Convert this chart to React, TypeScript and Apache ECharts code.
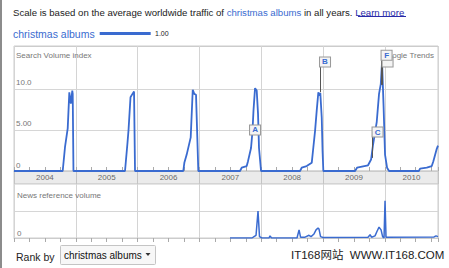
import React, { useEffect, useRef } from 'react';
import * as echarts from 'echarts';

const years = ['2004', '2005', '2006', '2007', '2008', '2009', '2010'];
const yearMid = [2004.5, 2005.5, 2006.5, 2007.5, 2008.5, 2009.5, 2010.43];
const xMin = 2004;
const xMax = 2010.86;

// Search volume index, [decimal year, value]
const searchVolume: [number, number][] = [
  [2004.0, 0],
  [2004.788, 0], [2004.825, 2.9], [2004.869, 5.2], [2004.895, 9.6], [2004.92, 8.2], [2004.943, 9.8], [2004.95, 9.4], [2004.962, 0],
  [2005.796, 0], [2005.837, 3.5], [2005.853, 5.0], [2005.885, 9.0], [2005.917, 9.4], [2005.942, 9.7], [2005.958, 0],
  [2006.739, 0], [2006.756, 1.0], [2006.794, 2.0], [2006.859, 4.1], [2006.892, 9.9], [2006.917, 9.4], [2006.945, 9.3], [2006.982, 0],
  [2007.657, 0], [2007.684, 0.4], [2007.765, 0.6], [2007.786, 1.2], [2007.835, 2.8], [2007.859, 4.9], [2007.875, 7.4], [2007.9, 10.1], [2007.927, 9.8], [2007.948, 7.0], [2007.964, 2.8], [2007.997, 0],
  [2008.628, 0], [2008.655, 0.4], [2008.736, 0.6], [2008.817, 1.0], [2008.838, 2.5], [2008.871, 4.9], [2008.898, 7.4], [2008.924, 9.6], [2008.94, 9.2], [2008.956, 9.5], [2008.979, 6.5], [2008.992, 2.5], [2009.005, 0],
  [2009.518, 0], [2009.55, 0.4], [2009.728, 0.7], [2009.777, 1.4], [2009.809, 3.2], [2009.869, 6.0], [2009.906, 9.4], [2009.934, 10.6], [2009.955, 13.3], [2009.979, 8.0], [2010.003, 2.0], [2010.036, 0.4], [2010.068, 0],
  [2010.55, 0], [2010.57, 0.3], [2010.678, 0.4], [2010.759, 0.6], [2010.785, 1.2], [2010.84, 2.7], [2010.86, 3.1],
];

// News reference volume, [decimal year, value]
const newsVolume: [number, number][] = [
  [2007.495, 0], [2007.851, 0], [2007.883, 0.05], [2007.916, 0.1], [2007.948, 1.0], [2007.972, 0.05], [2008.013, 0],
  [2008.126, 0], [2008.142, 0.08], [2008.167, 0],
  [2008.579, 0], [2008.612, 0.3], [2008.636, 0.03], [2008.709, 0.03], [2008.773, 0.1], [2008.806, 0.05], [2008.854, 0.15], [2008.887, 0.3], [2008.919, 0.37], [2008.935, 0.33], [2008.96, 0.05], [2009.0, 0.02],
  [2009.728, 0.03], [2009.761, 0.12], [2009.785, 0.03], [2009.841, 0.08], [2009.874, 0.25], [2009.906, 0.4], [2009.939, 0.3], [2009.964, 0.05], [2009.987, 0], [2010.003, 1.38], [2010.019, 0.03],
  [2010.796, 0.04], [2010.828, 0.08], [2010.86, 0.05],
];

// News flags: letter, decimal year, anchor value on the line, flag value
const flagLabels = ['A', 'B', 'C', '', 'F'];
const flagYears = [2007.819, 2008.951, 2009.801, 2009.963, 2009.947];
const flagAnchors = [5.0, 9.6, 1.6, 10.5, 10.5];
const flagTops = [5.0, 13.3, 4.75, 13.3, 14.1];

const BLUE = '#3a6bd0';
const FONT = '"Liberation Sans", Arial, sans-serif';

export default function App() {
  const ref = useRef<HTMLDivElement>(null);
  useEffect(() => {
    if (!ref.current) return;
    const chart = echarts.init(ref.current, null, { renderer: 'svg' });
    const xBase = {
      type: 'value', min: xMin, max: xMax, interval: 1,
      axisLabel: { show: false },
      splitLine: { show: true, lineStyle: { color: '#d4d4d4', width: 1 } },
    };
    chart.setOption({
      animation: false,
      textStyle: { fontFamily: FONT },
      legend: {
        data: ['christmas albums'], left: 8, top: 23, align: 'right', icon: 'rect',
        itemWidth: 51, itemHeight: 3, selectedMode: false,
        textStyle: { color: BLUE, fontSize: 10.5, fontFamily: FONT },
      },
      grid: [
        { left: 14, top: 46, width: 424, height: 125, show: true, borderColor: '#cccccc', borderWidth: 1, backgroundColor: '#fff' },
        { left: 14, top: 171, width: 424, height: 13, show: true, borderColor: '#cccccc', borderWidth: 1, backgroundColor: '#ebebeb' },
        { left: 14, top: 184, width: 424, height: 54, show: true, borderColor: '#cccccc', borderWidth: 1, backgroundColor: '#fff' },
      ],
      xAxis: [
        {
          ...xBase, gridIndex: 0,
          axisLine: { show: true, lineStyle: { color: '#cccccc' } },
          axisTick: { show: true, inside: true, length: 4, lineStyle: { color: '#aaaaaa' } },
          minorTick: { show: true, splitNumber: 4, length: 4, lineStyle: { color: '#aaaaaa' } },
        },
        {
          ...xBase, gridIndex: 1,
          axisLine: { show: false }, axisTick: { show: false },
          splitLine: { show: true, lineStyle: { color: '#c4c4c4', width: 1 } },
        },
        {
          ...xBase, gridIndex: 2, position: 'top',
          axisLine: { show: true, lineStyle: { color: '#cccccc' } },
          axisTick: { show: true, inside: true, length: 4, lineStyle: { color: '#aaaaaa' } },
          minorTick: { show: true, splitNumber: 4, length: 4, lineStyle: { color: '#aaaaaa' } },
        },
      ],
      yAxis: [
        {
          type: 'value', gridIndex: 0, min: 0, max: 15.24, interval: 5,
          axisLine: { show: false }, axisTick: { show: false },
          splitLine: { show: true, lineStyle: { color: ['#cccccc', '#d6d6d6', '#d6d6d6', 'rgba(0,0,0,0)'] } },
          axisLabel: {
            inside: true, margin: 2, verticalAlign: 'bottom', align: 'left', color: '#777', fontSize: 8, fontFamily: FONT,
            padding: [0, 0, 2, 0],
            formatter: (v: number) => (v === 0 ? '0' : v === 5 ? '5.00' : v === 10 ? '10.0' : ''),
          },
        },
        { type: 'value', gridIndex: 1, min: 0, max: 1, show: false },
        {
          type: 'value', gridIndex: 2, min: 0, max: 2, interval: 1,
          axisLine: { show: false }, axisTick: { show: false },
          splitLine: { show: true, lineStyle: { color: ['#cccccc', '#d6d6d6', 'rgba(0,0,0,0)'] } },
          axisLabel: {
            inside: true, margin: 3, verticalAlign: 'bottom', align: 'left', color: '#777', fontSize: 8, fontFamily: FONT,
            padding: [0, 0, 1, 0],
            formatter: (v: number) => (v === 0 ? '0' : ''),
          },
        },
      ],
      series: [
        {
          name: 'christmas albums', type: 'line', xAxisIndex: 0, yAxisIndex: 0, data: searchVolume,
          showSymbol: false, lineStyle: { color: BLUE, width: 1.8 }, itemStyle: { color: BLUE }, z: 3,
        },
        {
          name: 'years', type: 'scatter', xAxisIndex: 1, yAxisIndex: 1, silent: true,
          data: yearMid.map((x, i) => [x, 0.5, years[i]]), symbolSize: 0,
          label: { show: true, position: 'inside', formatter: (p: any) => p.data[2], color: '#444', fontSize: 8, fontFamily: FONT },
        },
        {
          name: 'news', type: 'line', xAxisIndex: 2, yAxisIndex: 2, data: newsVolume,
          showSymbol: false, lineStyle: { color: BLUE, width: 1.5 }, itemStyle: { color: BLUE }, z: 3,
        },
        {
          name: 'flag poles', type: 'lines', coordinateSystem: 'cartesian2d', xAxisIndex: 0, yAxisIndex: 0, silent: true,
          data: flagYears.map((x, i) => ({ coords: [[x, flagAnchors[i]], [x, flagTops[i]]] })),
          lineStyle: { color: '#555', width: 1, opacity: 1 }, z: 4,
        },
        {
          name: 'flags', type: 'scatter', xAxisIndex: 0, yAxisIndex: 0, silent: true,
          data: flagYears.map((x, i) => [x, flagTops[i], flagLabels[i]]),
          symbol: 'rect', symbolSize: [11, 10], symbolOffset: [5, 0],
          itemStyle: { color: '#f4f4f4', borderColor: '#9a9a9a', borderWidth: 1, opacity: 1 },
          label: { show: true, position: 'inside', formatter: (p: any) => p.data[2], color: BLUE, fontSize: 8, fontWeight: 'bold', fontFamily: FONT },
          z: 5,
        },
      ],
      graphic: [
        { type: 'rect', left: 0, top: 0, shape: { width: 2, height: 268 }, style: { fill: '#8c8c8c' } },
        {
          type: 'text', x: 13, y: 12, z: 1,
          style: {
            text: '{a|Scale is based on the average worldwide traffic of }{b|christmas albums}{a| in all years. }{c|Learn more}',
            verticalAlign: 'middle', font: `9.6px ${FONT}`,
            rich: {
              a: { fill: '#222', fontSize: 9.6, fontFamily: FONT },
              b: { fill: BLUE, fontSize: 9.6, fontFamily: FONT },
              c: { fill: '#2a2aa8', fontSize: 9.6, fontFamily: FONT },
            },
          },
        },
        { type: 'line', shape: { x1: 358, y1: 16.5, x2: 406, y2: 16.5 }, style: { stroke: '#2a2aa8', lineWidth: 1 } },
        { type: 'text', x: 155, y: 33, style: { text: '1.00', fill: '#222', font: `7px ${FONT}`, verticalAlign: 'middle' } },
        { type: 'text', x: 16, y: 55, z: 1, style: { text: 'Search Volume index', fill: '#777', font: `8px ${FONT}`, verticalAlign: 'middle' } },
        { type: 'text', x: 434, y: 55, z: 1, style: { text: 'Google Trends', fill: '#777', font: `8px ${FONT}`, align: 'right', verticalAlign: 'middle' } },
        { type: 'text', x: 17, y: 195, z: 1, style: { text: 'News reference volume', fill: '#777', font: `8px ${FONT}`, verticalAlign: 'middle' } },
        { type: 'text', x: 16, y: 257, style: { text: 'Rank by', fill: '#222', font: `10.5px ${FONT}`, verticalAlign: 'middle' } },
        { type: 'rect', shape: { x: 60.5, y: 245.5, width: 95, height: 19, r: 1 }, style: { fill: '#f7f7f7', stroke: '#c4c4c4', lineWidth: 1 } },
        { type: 'text', x: 64, y: 255, style: { text: 'christmas albums', fill: '#111', font: `10px ${FONT}`, verticalAlign: 'middle' } },
        { type: 'polygon', shape: { points: [[145.5, 253], [150.5, 253], [148, 256]] }, style: { fill: '#333' } },
        { type: 'text', x: 291, y: 255, style: { text: 'IT168网站  WWW.IT168.COM', fill: '#222', font: `11.5px "Liberation Sans", "Noto Sans CJK SC", sans-serif`, verticalAlign: 'middle' } },
      ],
    });
    return () => chart.dispose();
  }, []);
  return <div ref={ref} style={{ position: 'fixed', left: 0, top: 0, width: 449, height: 268, background: '#fff' }} />;
}
